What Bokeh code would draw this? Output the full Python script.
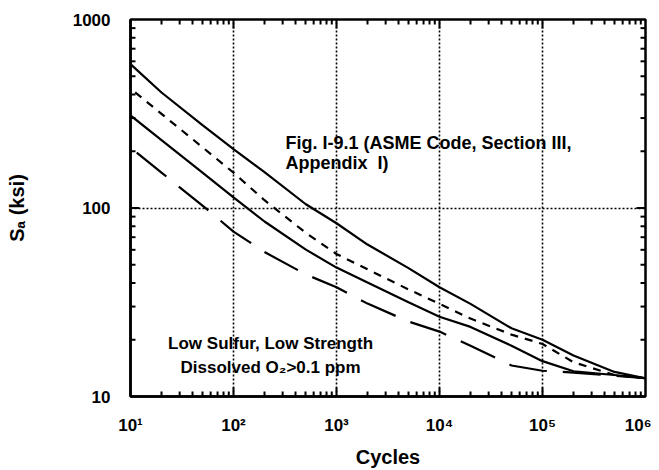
from bokeh.plotting import figure
from bokeh.models import Range1d, LogAxis, FixedTicker, Label
from bokeh.embed import file_html
from bokeh.resources import INLINE

# ---- data ----
cycles = [10, 20, 50, 100, 200, 500, 1000, 2000, 5000, 1e4, 2e4, 5e4, 1e5, 2e5, 5e5, 1e6]
asme_curve = [580, 410, 275, 205, 155, 105, 83, 64, 48, 38, 31, 23, 20, 16.5, 13.5, 12.5]
short_dash_curve = [430, 316, 210, 154, 110, 74, 57, 47.3, 37, 31, 25.9, 21.3, 19, 15.2, 13.0, 12.5]
lower_solid_curve = [310, 229, 154, 114, 84.8, 60.3, 48.3, 40.2, 31.6, 26.5, 23.4, 18.6, 15.4, 13.6, 13.0, 12.5]
long_dash_curve = [209, 154, 103, 75, 58.4, 44.5, 38, 31.1, 25, 22.1, 18.6, 14.6, 13.7, 13.4, 12.9, 12.5]

x_ticks = [10.0, 100.0, 1000.0, 10000.0, 100000.0, 1000000.0]
x_tick_labels = ["10\u00b9", "10\u00b2", "10\u00b3", "10\u2074", "10\u2075", "10\u2076"]
y_ticks = [10.0, 100.0, 1000.0]
y_tick_labels = ["10", "100", "1000"]

FONT = "Liberation Sans"
FRAME_W, FRAME_H = 515, 377

x_minor = [float(m * t) for t in x_ticks[:-1] for m in range(2, 10)]
y_minor = [float(m * t) for t in y_ticks[:-1] for m in range(2, 10)]

p = figure(
    x_axis_type="log", y_axis_type="log",
    x_axis_location=None, y_axis_location=None,
    x_range=Range1d(x_ticks[0], x_ticks[-1]), y_range=Range1d(y_ticks[0], y_ticks[-1]),
    frame_width=FRAME_W, frame_height=FRAME_H,
    min_border_left=130, min_border_right=6, min_border_top=19, min_border_bottom=10,
    output_backend="svg", toolbar_location=None,
    background_fill_color="white", border_fill_color="white",
)

p.outline_line_color = "black"
p.outline_line_width = 2.5


def make_axis(ticks, labels):
    ax = LogAxis(ticker=FixedTicker(ticks=ticks, minor_ticks=[]))
    ax.axis_line_color = "black"
    ax.axis_line_width = 2.5
    ax.major_tick_in = 0
    ax.major_tick_out = 0
    ax.minor_tick_in = 0
    ax.minor_tick_out = 0
    ax.major_label_overrides = {t: l for t, l in zip(ticks, labels)}
    ax.major_label_text_font = FONT
    ax.major_label_text_font_style = "bold"
    ax.major_label_text_font_size = "17px"
    ax.major_label_text_color = "black"
    ax.axis_label_text_font = FONT
    ax.axis_label_text_font_style = "bold"
    ax.axis_label_text_font_size = "20px"
    ax.axis_label_text_color = "black"
    return ax


xa = make_axis(x_ticks, x_tick_labels)
xa.major_label_standoff = 19
xa.axis_label = "Cycles"
xa.axis_label_standoff = 8
p.add_layout(xa, "below")

ya = make_axis(y_ticks, y_tick_labels)
ya.major_label_standoff = 20
ya.axis_label = "S\u2090 (ksi)"
ya.axis_label_standoff = 42
p.add_layout(ya, "left")

p.xgrid.ticker = FixedTicker(ticks=x_ticks)
p.ygrid.ticker = FixedTicker(ticks=y_ticks)
for g in (p.xgrid[0], p.ygrid[0]):
    g.grid_line_color = "black"
    g.grid_line_width = 1.6
    g.grid_line_dash = "2 2"

lw = 2.2
p.line(cycles, asme_curve, line_color="black", line_width=lw)
p.line(cycles, short_dash_curve, line_color="black", line_width=lw, line_dash="8 7", line_dash_offset=9)
p.line(cycles, lower_solid_curve, line_color="black", line_width=lw)
p.line(cycles, long_dash_curve, line_color="black", line_width=lw, line_dash="38 16", line_dash_offset=46)

# ---- inward tick marks on all four frame sides (length given in pixels) ----
px_per_dec_x = FRAME_W / (len(x_ticks) - 1)
px_per_dec_y = FRAME_H / (len(y_ticks) - 1)
xmaj, ymaj = x_ticks[1:-1], y_ticks[1:-1]
x_lo, x_hi, y_lo, y_hi = x_ticks[0], x_ticks[-1], y_ticks[0], y_ticks[-1]
tick_xs, tick_ys = [], []
for xs, ln in ((xmaj, 9), (x_minor, 5)):
    f = 10 ** (ln / px_per_dec_y)
    for x in xs:
        tick_xs += [[x, x], [x, x]]
        tick_ys += [[y_lo, y_lo * f], [y_hi, y_hi / f]]
for ys, ln in ((ymaj, 9), (y_minor, 5)):
    f = 10 ** (ln / px_per_dec_x)
    for y in ys:
        tick_xs += [[x_lo, x_lo * f], [x_hi, x_hi / f]]
        tick_ys += [[y, y], [y, y]]
p.multi_line(xs=tick_xs, ys=tick_ys, line_color="black", line_width=2, level="overlay")

# ---- annotations ----
ann = dict(text_font=FONT, text_font_style="bold", text_font_size="17px", text_color="black",
           text_baseline="middle")
ann_fig = dict(ann, text_font_size="18px")
p.add_layout(Label(x=320, y=221, text="Fig. I-9.1 (ASME Code, Section III,", text_align="left", **ann_fig))
p.add_layout(Label(x=320, y=173, text="Appendix\u00a0 I)", text_align="left", **ann_fig))
p.add_layout(Label(x=229, y=19.1, text="Low Sulfur, Low Strength", text_align="center", **ann))
p.add_layout(Label(x=229, y=14.3, text="Dissolved O\u2082>0.1 ppm", text_align="center", **ann))

open("out.html", "w").write(file_html(p, INLINE))
